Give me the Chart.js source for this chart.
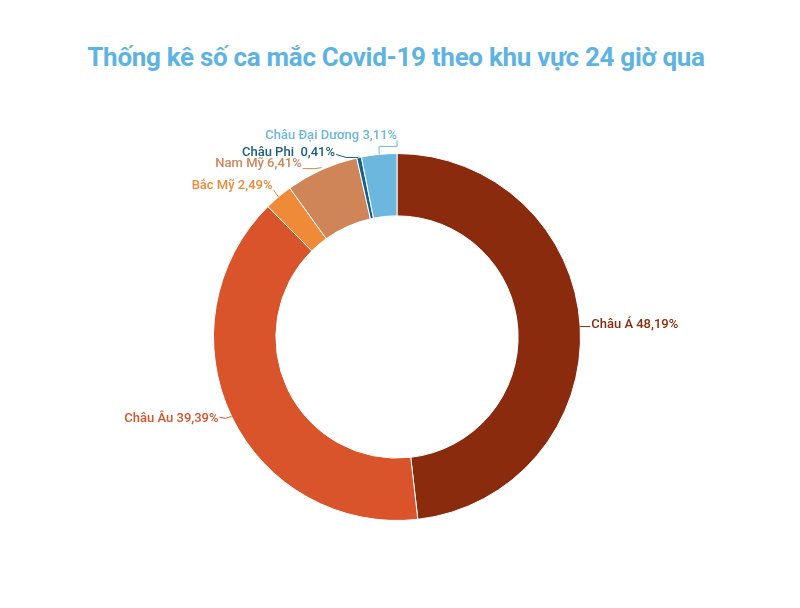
<!DOCTYPE html>
<html lang="vi">
<head>
    <meta charset="UTF-8">
    <title>Thống kê số ca mắc Covid-19 theo khu vực 24 giờ qua</title>
    <script src="https://cdn.jsdelivr.net/npm/chart.js"></script>
    <style>
        body {
            margin: 0;
            background: #fff;
            font-family: Roboto, Arial, sans-serif;
        }

        .wrap {
            position: relative;
            width: 800px;
            height: 608px;
        }

        h1 {
            position: absolute;
            top: 42px;
            left: 0;
            width: 792px;
            margin: 0;
            text-align: center;
            font-size: 26px;
            font-weight: 700;
            color: #5db3e2;
            letter-spacing: -0.3px;
        }

        canvas {
            position: absolute;
            top: 0;
            left: 0;
        }
    </style>
</head>
<body>
    <div class="wrap">
        <h1>Thống kê số ca mắc Covid-19 theo khu vực 24 giờ qua</h1>
        <canvas id="regionChart" width="800" height="608"></canvas>
    </div>

    <script>
        const regions = ['Châu Á', 'Châu Âu', 'Bắc Mỹ', 'Nam Mỹ', 'Châu Phi', 'Châu Đại Dương'];
        const shares = [48.19, 39.39, 2.49, 6.41, 0.41, 3.11];

        const sliceColors = ['#8b2b0d', '#d9532b', '#ef8a38', '#d08558', '#17628a', '#6cb7de'];
        const labelColors = ['#8b2b0d', '#d9532b', '#ef8a38', '#d08558', '#1b5e82', '#6cb7de'];

        // label placement relative to the outer middle point of each slice
        const labelLayout = [
            { dx: 11, dy: -2, align: 'left', leader: [[0, 0], [10, 0]] },
            { dx: -13, dy: 2, align: 'right', leader: [[0, 0], [-6, 2], [-12, 1]] },
            { dx: -6, dy: -11, align: 'right', leader: [[0, 0], [-5, -7]] },
            { dx: -20, dy: -6, align: 'right', leader: [[0, -2], [-7, -1], [-19, -1]] },
            { dx: -24, dy: -5, align: 'right', leader: [[0, -1], [-1, 0], [-13, 0], [-23, -3]] },
            { dx: 18, dy: -19, align: 'right', leader: [[0, 0], [0, -8], [18, -8], [18, -14]] }
        ];

        const fmt = v => v.toFixed(2).replace('.', ',') + '%';

        const sliceLabels = {
            id: 'sliceLabels',
            afterDatasetsDraw(chart) {
                const ctx = chart.ctx;
                const arcs = chart.getDatasetMeta(0).data;
                ctx.save();
                ctx.font = '500 13px Roboto, Arial, sans-serif';
                ctx.textBaseline = 'middle';
                arcs.forEach((arc, i) => {
                    const mid = (arc.startAngle + arc.endAngle) / 2;
                    const px = arc.x + Math.cos(mid) * arc.outerRadius;
                    const py = arc.y + Math.sin(mid) * arc.outerRadius;
                    const lay = labelLayout[i];

                    ctx.strokeStyle = sliceColors[i];
                    ctx.lineWidth = 1;
                    ctx.beginPath();
                    lay.leader.forEach((p, k) => {
                        if (k === 0) ctx.moveTo(px + p[0], py + p[1]);
                        else ctx.lineTo(px + p[0], py + p[1]);
                    });
                    ctx.stroke();

                    ctx.fillStyle = labelColors[i];
                    ctx.textAlign = lay.align;
                    const txt = regions[i] === 'Châu Phi'
                        ? regions[i] + '  ' + fmt(shares[i])
                        : regions[i] + ' ' + fmt(shares[i]);
                    ctx.fillText(txt, px + lay.dx, py + lay.dy);
                });
                ctx.restore();
            }
        };

        new Chart(document.getElementById('regionChart'), {
            type: 'doughnut',
            data: {
                labels: regions,
                datasets: [{
                    data: shares,
                    backgroundColor: sliceColors,
                    borderColor: '#ffffff',
                    borderWidth: 1
                }]
            },
            options: {
                responsive: false,
                animation: false,
                cutout: '66%',
                layout: {
                    padding: { top: 153, bottom: 87, left: 100, right: 106 }
                },
                plugins: {
                    legend: { display: false },
                    tooltip: { enabled: false }
                }
            },
            plugins: [sliceLabels]
        });
    </script>
</body>
</html>
